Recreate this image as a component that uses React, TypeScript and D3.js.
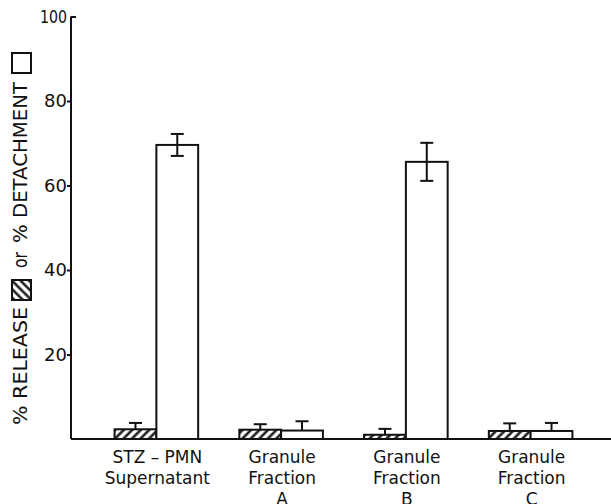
import * as d3 from 'd3';
import { useEffect, useRef } from 'react';

// groups along the x axis, each label split into lines
const groups = ['STZ-PMN', 'Fraction A', 'Fraction B', 'Fraction C'];
const groupLabels = [
  ['STZ – PMN', 'Supernatant'],
  ['Granule', 'Fraction', 'A'],
  ['Granule', 'Fraction', 'B'],
  ['Granule', 'Fraction', 'C'],
];
const releaseValues = [2.3, 2.2, 1.0, 1.9];
const releaseErrors = [1.5, 1.3, 1.4, 1.8];
const detachValues = [69.6, 2.0, 65.6, 1.9];
const detachErrors = [2.6, 2.2, 4.5, 1.9];
const yTicks = [20, 40, 60, 80, 100];

const W = 611;
const H = 504;
const FONT = 'DejaVu Sans, Liberation Sans, sans-serif';

export default function App() {
  const ref = useRef<SVGSVGElement>(null);

  useEffect(() => {
    const svg = d3.select(ref.current);
    svg.selectAll('*').remove();

    const axisX = 71;
    const baseY = 439;

    const y = d3.scaleLinear().domain([0, 100]).range([baseY, 16.5]);
    const x0 = d3.scaleBand().domain(groups).range([94, 593]).paddingInner(0.33).paddingOuter(0.165);
    const x1 = d3.scaleBand().domain(['release', 'detach']).range([0, x0.bandwidth()]);

    // hatch pattern "////"
    const defs = svg.append('defs');
    const pat = defs.append('pattern')
      .attr('id', 'hatch')
      .attr('patternUnits', 'userSpaceOnUse')
      .attr('width', 6)
      .attr('height', 6)
      .attr('patternTransform', 'rotate(45)');
    pat.append('rect').attr('width', 6).attr('height', 6).attr('fill', '#fff');
    pat.append('line').attr('x1', 1.5).attr('x2', 1.5).attr('y1', 0).attr('y2', 6)
      .attr('stroke', '#111').attr('stroke-width', 2.4);

    // bars
    const rows = groups.map((g, i) => [
      { g, key: 'release', v: releaseValues[i], e: releaseErrors[i] },
      { g, key: 'detach', v: detachValues[i], e: detachErrors[i] },
    ]).flat();

    const bars = svg.append('g');
    rows.forEach(d => {
      const bx = (x0(d.g) as number) + (x1(d.key) as number);
      const bw = x1.bandwidth();
      bars.append('rect')
        .attr('x', bx)
        .attr('y', y(d.v))
        .attr('width', bw)
        .attr('height', baseY - y(d.v))
        .attr('fill', d.key === 'release' ? 'url(#hatch)' : '#fff')
        .attr('stroke', '#111')
        .attr('stroke-width', 2);

      // error bars (lower whisker only visible on tall bars)
      const cx = bx + bw / 2;
      const top = y(d.v + d.e);
      const bottom = d.v > 10 ? y(d.v - d.e) : y(d.v);
      const eb = bars.append('g').attr('stroke', '#111').attr('stroke-width', 2);
      eb.append('line').attr('x1', cx).attr('x2', cx).attr('y1', top).attr('y2', bottom);
      eb.append('line').attr('x1', cx - 6.5).attr('x2', cx + 6.5).attr('y1', top).attr('y2', top);
      if (d.v > 10) {
        eb.append('line').attr('x1', cx - 6.5).attr('x2', cx + 6.5).attr('y1', bottom).attr('y2', bottom);
      }
    });

    // baseline
    svg.append('line')
      .attr('x1', axisX).attr('x2', W).attr('y1', baseY).attr('y2', baseY)
      .attr('stroke', '#111').attr('stroke-width', 2);

    // y axis
    const yAxis = svg.append('g')
      .attr('transform', `translate(${axisX},0)`)
      .call(d3.axisLeft(y).tickValues(yTicks).tickSize(4).tickPadding(2).tickFormat(d3.format('d')));
    yAxis.select('.domain').attr('d', `M0,${y(100)}V${baseY}`).attr('stroke', '#111').attr('stroke-width', 2);
    yAxis.selectAll('.tick line').attr('stroke', '#111').attr('stroke-width', 2)
      .filter((d: any) => d === 100).attr('x2', 5);
    yAxis.selectAll('.tick text')
      .attr('fill', '#111')
      .style('font-family', FONT)
      .style('font-size', '18px')
      .attr('x', -4)
      .filter((d: any) => d === 100).attr('textLength', 27).attr('lengthAdjust', 'spacingAndGlyphs');

    // category labels
    groupLabels.forEach((lines, i) => {
      const cx = (x0(groups[i]) as number) + x0.bandwidth() / 2 + 1;
      lines.forEach((t, j) => {
        svg.append('text')
          .attr('x', cx)
          .attr('y', 463 + j * 21)
          .attr('text-anchor', 'middle')
          .attr('fill', '#111')
          .style('font-family', FONT)
          .style('font-size', '17px')
          .text(t);
      });
    });

    // y axis title with legend boxes, rotated
    const title = svg.append('g').attr('transform', 'translate(27,425) rotate(-90)');
    const addText = (t: string, start: number, len: number) => {
      title.append('text')
        .attr('x', start)
        .attr('y', 0)
        .attr('fill', '#111')
        .attr('textLength', len)
        .attr('lengthAdjust', 'spacingAndGlyphs')
        .style('font-family', FONT)
        .style('font-size', '19px')
        .text(t);
    };
    addText('% RELEASE', 0, 118);
    title.append('rect').attr('x', 125).attr('y', -15).attr('width', 20).attr('height', 19)
      .attr('fill', 'url(#hatch)').attr('stroke', '#111').attr('stroke-width', 2);
    addText('or', 157, 16);
    addText('% DETACHMENT', 182, 161);
    title.append('rect').attr('x', 352).attr('y', -15).attr('width', 20).attr('height', 19)
      .attr('fill', '#fff').attr('stroke', '#111').attr('stroke-width', 2);
  }, []);

  return (
    <svg ref={ref} width={W} height={H}
      style={{ position: 'absolute', left: 0, top: 0, background: '#fff' }} />
  );
}
